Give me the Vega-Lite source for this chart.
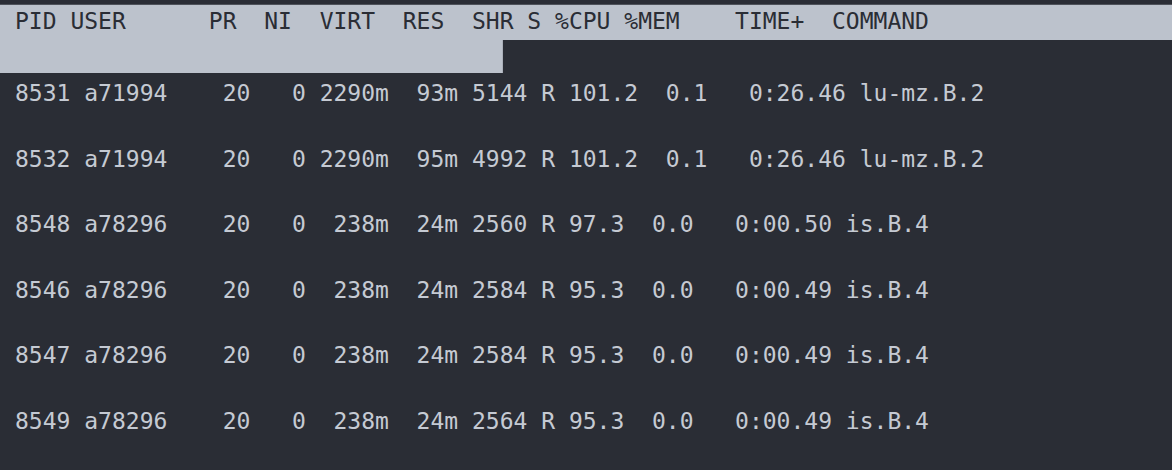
{
  "$schema": "https://vega.github.io/schema/vega-lite/v6.json",
  "autosize": {"type": "fit", "contains": "padding"},
  "width": 1172,
  "height": 470,
  "padding": 0,
  "background": "#2a2d35",
  "config": {"view": {"stroke": null}},
  "datasets": {
    "procs": [
      {"line": 1, "pid": "8531", "user": "a71994", "pr": "20", "ni": "0", "virt": "2290m", "res": "93m", "shr": "5144", "s": "R", "cpu": "101.2", "mem": "0.1", "time": "0:26.46", "command": "lu-mz.B.2"},
      {"line": 2, "pid": "8532", "user": "a71994", "pr": "20", "ni": "0", "virt": "2290m", "res": "95m", "shr": "4992", "s": "R", "cpu": "101.2", "mem": "0.1", "time": "0:26.46", "command": "lu-mz.B.2"},
      {"line": 3, "pid": "8548", "user": "a78296", "pr": "20", "ni": "0", "virt": "238m", "res": "24m", "shr": "2560", "s": "R", "cpu": "97.3", "mem": "0.0", "time": "0:00.50", "command": "is.B.4"},
      {"line": 4, "pid": "8546", "user": "a78296", "pr": "20", "ni": "0", "virt": "238m", "res": "24m", "shr": "2584", "s": "R", "cpu": "95.3", "mem": "0.0", "time": "0:00.49", "command": "is.B.4"},
      {"line": 5, "pid": "8547", "user": "a78296", "pr": "20", "ni": "0", "virt": "238m", "res": "24m", "shr": "2584", "s": "R", "cpu": "95.3", "mem": "0.0", "time": "0:00.49", "command": "is.B.4"},
      {"line": 6, "pid": "8549", "user": "a78296", "pr": "20", "ni": "0", "virt": "238m", "res": "24m", "shr": "2564", "s": "R", "cpu": "95.3", "mem": "0.0", "time": "0:00.49", "command": "is.B.4"}
    ],
    "highlight": [
      {"x": -1.08, "x2": 83.24, "y": -0.36, "y2": 0.178},
      {"x": -1.08, "x2": 35.1, "y": 0.178, "y2": 0.68}
    ]
  },
  "layer": [
    {
      "data": {"name": "highlight"},
      "mark": {"type": "rect", "color": "#bcc2cc", "clip": true},
      "encoding": {
        "x": {"field": "x", "type": "quantitative", "scale": {"domain": [-1.08, 83.24], "nice": false, "zero": false}, "axis": null},
        "x2": {"field": "x2"},
        "y": {"field": "y", "type": "quantitative", "scale": {"domain": [-0.433, 6.732], "reverse": true, "nice": false, "zero": false}, "axis": null},
        "y2": {"field": "y2"}
      }
    },
    {
      "data": {"values": [{"line": 0, "col": 0, "text": "\u00a0PID\u00a0USER\u00a0\u00a0\u00a0\u00a0\u00a0\u00a0PR\u00a0\u00a0NI\u00a0\u00a0VIRT\u00a0\u00a0RES\u00a0\u00a0SHR\u00a0S\u00a0%CPU\u00a0%MEM\u00a0\u00a0\u00a0\u00a0TIME+\u00a0\u00a0COMMAND"}]},
      "mark": {"type": "text", "align": "left", "baseline": "middle", "font": "DejaVu Sans Mono", "fontSize": 23, "color": "#2a2d35", "dy": -6, "clip": true},
      "encoding": {
        "x": {"field": "col", "type": "quantitative", "axis": null},
        "y": {"field": "line", "type": "quantitative", "axis": null},
        "text": {"field": "text"}
      }
    },
    {
      "data": {"name": "procs"},
      "transform": [
        {"calculate": "0", "as": "col"},
        {"calculate": "replace(pad(datum.pid, 4, ' ', 'left') + ' ' + pad(datum.user, 9, ' ', 'right') + pad(datum.pr, 3, ' ', 'left') + pad(datum.ni, 4, ' ', 'left') + pad(datum.virt, 6, ' ', 'left') + pad(datum.res, 5, ' ', 'left') + pad(datum.shr, 5, ' ', 'left') + ' ' + datum.s + ' ' + datum.cpu + '  ' + datum.mem + '   ' + datum.time + ' ' + datum.command, / /g, '\u00a0')", "as": "text"}
      ],
      "mark": {"type": "text", "align": "left", "baseline": "middle", "font": "DejaVu Sans Mono", "fontSize": 23, "color": "#c5cad3", "clip": true},
      "encoding": {
        "x": {"field": "col", "type": "quantitative", "axis": null},
        "y": {"field": "line", "type": "quantitative", "axis": null},
        "text": {"field": "text"}
      }
    }
  ]
}
